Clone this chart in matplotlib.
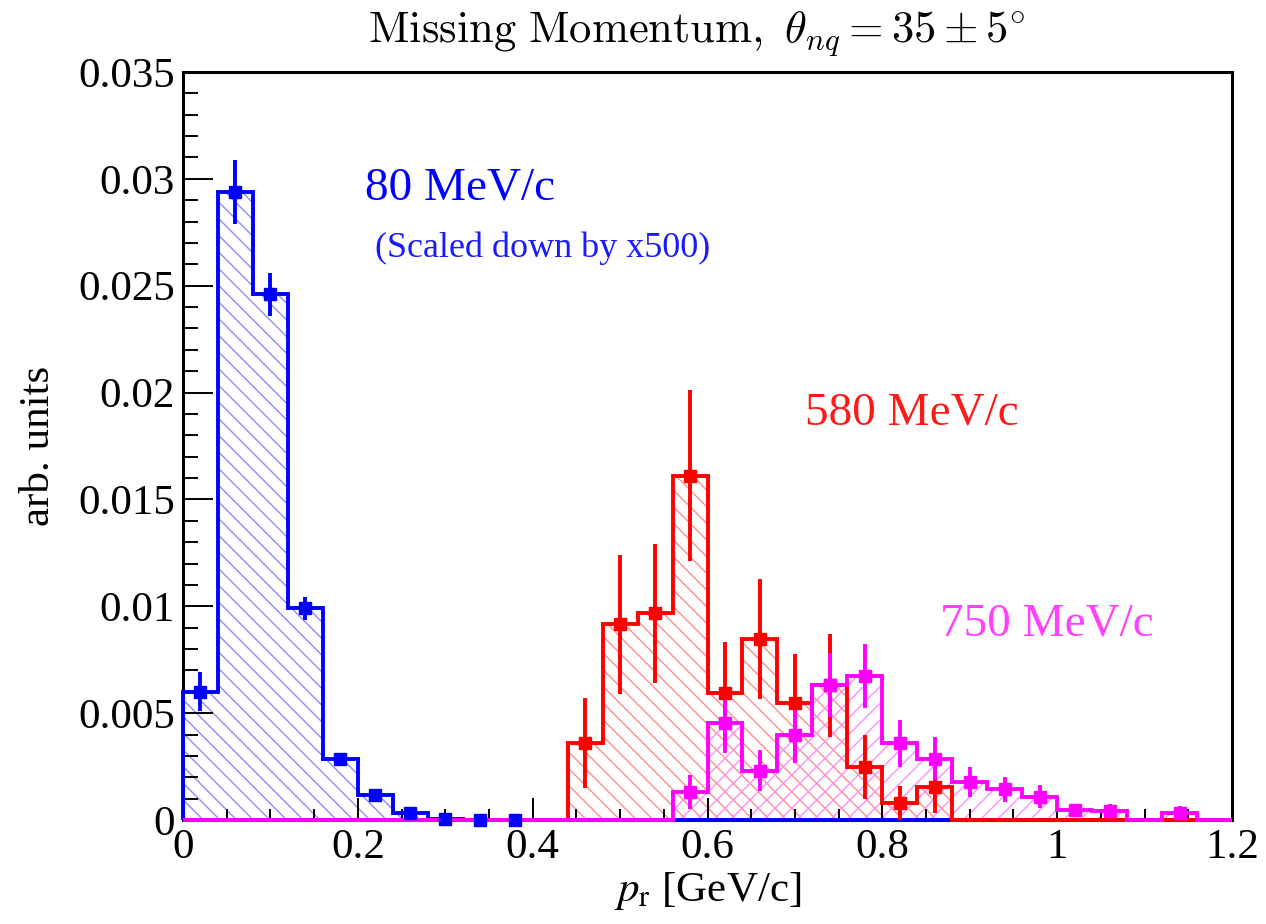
import numpy as np
import matplotlib
matplotlib.use("Agg")
import matplotlib.pyplot as plt
from matplotlib.ticker import MultipleLocator

# Bin edges: 30 bins of 0.04 GeV/c between 0 and 1.2
edges = np.round(np.arange(0.0, 1.2001, 0.04), 4)

# 80 MeV/c setting (scaled down by x500)
blue_vals = [0.0060, 0.0294, 0.0246, 0.0099, 0.00285, 0.00115, 0.00031, 0.00006,
             0.00002, 0.00002] + [0.0] * 20
blue_errs = [0.00092, 0.0015, 0.0010, 0.00054, 0.00015, 0.00012, 0.0001, 0.00005,
             0.00003, 0.00003] + [0.0] * 20

# 580 MeV/c setting
red_vals = [0.0] * 11 + [0.00362, 0.00916, 0.00967, 0.01611, 0.00593, 0.00846,
                         0.00549, 0.0063, 0.0025, 0.0008, 0.00153] + [0.0] * 8
red_errs = [0.0] * 11 + [0.0021, 0.00325, 0.00324, 0.0040, 0.0024, 0.0028,
                         0.0023, 0.0024, 0.0015, 0.0008, 0.0012] + [0.0] * 8

# 750 MeV/c setting
mag_vals = [0.0] * 14 + [0.0013, 0.00455, 0.00231, 0.00399, 0.0063, 0.00675,
                         0.00359, 0.00287, 0.00179, 0.00143, 0.00109, 0.00047,
                         0.00044, 0.0, 0.00034, 0.0]
mag_errs = [0.0] * 14 + [0.0008, 0.0014, 0.00095, 0.0013, 0.0015, 0.0015,
                         0.0011, 0.0010, 0.0007, 0.0006, 0.00055, 0.0003,
                         0.0003, 0.0, 0.0003, 0.0]

yticks = [0, 0.005, 0.01, 0.015, 0.02, 0.025, 0.03, 0.035]
ytick_labels = ["0", "0.005", "0.01", "0.015", "0.02", "0.025", "0.03", "0.035"]
xticks = [0, 0.2, 0.4, 0.6, 0.8, 1.0, 1.2]
xtick_labels = ["0", "0.2", "0.4", "0.6", "0.8", "1", "1.2"]

plt.rcParams["font.family"] = ["Liberation Serif", "DejaVu Serif"]
plt.rcParams["hatch.linewidth"] = 1.0

fig = plt.figure(figsize=(12.66, 9.24), dpi=100)
ax = fig.add_axes([183 / 1266, 1 - 820 / 924, (1232 - 183) / 1266, (820 - 72) / 924])

series = [
    (blue_vals, blue_errs, "#0000ff", "#8c8cff", "\\\\"),
    (red_vals, red_errs, "#ff0000", "#ff8c8c", "\\\\"),
    (mag_vals, mag_errs, "#ff00ff", "#ff8cff", "//"),
]

centers = 0.5 * (edges[:-1] + edges[1:])
lw = 2.8

# hatched areas
for vals, errs, col, hcol, hatch in series:
    ax.stairs(vals, edges, fill=True, facecolor="none", edgecolor=hcol,
              hatch=hatch, linewidth=0, zorder=1)

# histogram outlines
for vals, errs, col, hcol, hatch in series:
    ax.stairs(vals, edges, fill=False, color=col, linewidth=lw, zorder=3,
              clip_on=False)

# points with error bars
for vals, errs, col, hcol, hatch in series:
    v = np.asarray(vals)
    e = np.asarray(errs)
    m = v > 0
    ax.errorbar(centers[m], v[m], yerr=e[m], fmt="s", color=col, ms=8.6,
                elinewidth=lw, capsize=0, zorder=4, clip_on=False)

ax.set_xlim(0, 1.2)
ax.set_ylim(0, 0.035)
ax.set_xticks(xticks, xtick_labels)
ax.set_yticks(yticks, ytick_labels)
ax.xaxis.set_minor_locator(MultipleLocator(0.05))
ax.yaxis.set_minor_locator(MultipleLocator(0.001))
ax.tick_params(axis="both", which="both", direction="in", top=False, right=False,
               width=1.4, labelsize=31, colors="black")
ax.tick_params(axis="x", which="major", length=15.8, pad=6)
ax.tick_params(axis="x", which="minor", length=7.9)
ax.tick_params(axis="y", which="major", length=21.6, pad=6)
ax.tick_params(axis="y", which="minor", length=10.8)
for s in ax.spines.values():
    s.set_linewidth(2.2)

ax.set_ylabel("arb. units", fontsize=31, labelpad=14)
ax.set_xlabel(r"$p_{\mathrm{r}}$ [GeV/c]", fontsize=31, math_fontfamily="stix",
              labelpad=2)

fig.text(697 / 1266, 1 - 42 / 924,
         r"$\mathrm{Missing\ Momentum,}\ \theta_{nq} = 35 \pm 5^{\circ}$",
         fontsize=32, math_fontfamily="cm", ha="center", va="baseline")


def label(px, py, s, size, color):
    fig.text(px / 1266, 1 - py / 924, s, fontsize=size, color=color,
             ha="left", va="baseline")


label(365, 200, "80 MeV/c", 34, "#0000ff")
label(375, 257, "(Scaled down by x500)", 26, "#1a1aff")
label(805, 425, "580 MeV/c", 34, "#ff1a1a")
label(940, 635, "750 MeV/c", 34, "#ff40ff")

fig.savefig("out.png", dpi=100)
